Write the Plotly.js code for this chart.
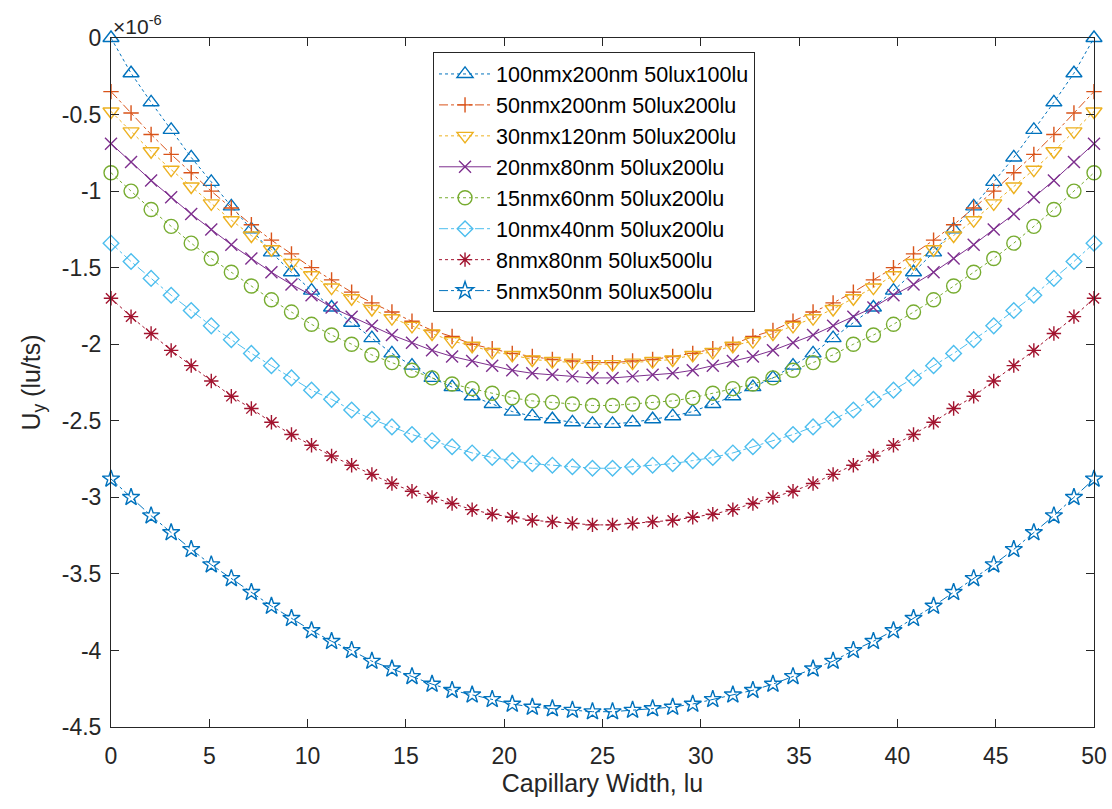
<!DOCTYPE html>
<html>
<head>
<meta charset="utf-8">
<script src="https://cdn.plot.ly/plotly-3.0.1.min.js"></script>
<style>html,body{margin:0;padding:0;background:#fff}#chart{width:1112px;height:809px}</style>
</head>
<body>
<div id="chart"></div>
<script>
// Capillary width positions (lu)
const xWidth = [0, 1.02, 2.04, 3.06, 4.08, 5.10, 6.12, 7.14, 8.16, 9.18, 10.20, 11.22, 12.24, 13.27, 14.29, 15.31, 16.33, 17.35, 18.37, 19.39, 20.41, 21.43, 22.45, 23.47, 24.49, 25.51, 26.53, 27.55, 28.57, 29.59, 30.61, 31.63, 32.65, 33.67, 34.69, 35.71, 36.73, 37.76, 38.78, 39.80, 40.82, 41.84, 42.86, 43.88, 44.90, 45.92, 46.94, 47.96, 48.98, 50];

// Uy values in units of 1e-6 lu/ts
const s100x200 = [0, -0.23, -0.42, -0.60, -0.78, -0.94, -1.10, -1.25, -1.40, -1.53, -1.65, -1.76, -1.86, -1.96, -2.06, -2.14, -2.22, -2.28, -2.34, -2.39, -2.44, -2.47, -2.49, -2.51, -2.52,
                  -2.52, -2.51, -2.49, -2.47, -2.44, -2.39, -2.34, -2.28, -2.22, -2.14, -2.06, -1.96, -1.86, -1.76, -1.65, -1.53, -1.40, -1.25, -1.10, -0.94, -0.78, -0.60, -0.42, -0.23, 0];
const s50x200 = [-0.35, -0.49, -0.63, -0.76, -0.88, -1.00, -1.11, -1.22, -1.32, -1.41, -1.50, -1.58, -1.66, -1.73, -1.79, -1.85, -1.91, -1.95, -2.00, -2.03, -2.06, -2.08, -2.10, -2.11, -2.12,
                 -2.12, -2.11, -2.10, -2.08, -2.06, -2.03, -2.00, -1.95, -1.91, -1.85, -1.79, -1.73, -1.66, -1.58, -1.50, -1.41, -1.32, -1.22, -1.11, -1.00, -0.88, -0.76, -0.63, -0.49, -0.35];
const s30x120 = [-0.48, -0.61, -0.74, -0.86, -0.97, -1.08, -1.19, -1.29, -1.38, -1.47, -1.55, -1.63, -1.70, -1.77, -1.83, -1.88, -1.93, -1.98, -2.01, -2.05, -2.07, -2.10, -2.11, -2.12, -2.13,
                 -2.13, -2.12, -2.11, -2.10, -2.07, -2.05, -2.01, -1.98, -1.93, -1.88, -1.83, -1.77, -1.70, -1.63, -1.55, -1.47, -1.38, -1.29, -1.19, -1.08, -0.97, -0.86, -0.74, -0.61, -0.48];
const s20x80 = [-0.69, -0.81, -0.93, -1.04, -1.15, -1.25, -1.35, -1.44, -1.53, -1.61, -1.68, -1.76, -1.82, -1.88, -1.94, -1.99, -2.04, -2.08, -2.11, -2.14, -2.17, -2.19, -2.20, -2.21, -2.22,
                -2.22, -2.21, -2.20, -2.19, -2.17, -2.14, -2.11, -2.08, -2.04, -1.99, -1.94, -1.88, -1.82, -1.76, -1.68, -1.61, -1.53, -1.44, -1.35, -1.25, -1.15, -1.04, -0.93, -0.81, -0.69];
const s15x60 = [-0.88, -1.00, -1.12, -1.23, -1.34, -1.44, -1.53, -1.62, -1.71, -1.79, -1.87, -1.94, -2.00, -2.07, -2.12, -2.17, -2.22, -2.26, -2.29, -2.32, -2.35, -2.37, -2.38, -2.39, -2.40,
                -2.40, -2.39, -2.38, -2.37, -2.35, -2.32, -2.29, -2.26, -2.22, -2.17, -2.12, -2.07, -2.00, -1.94, -1.87, -1.79, -1.71, -1.62, -1.53, -1.44, -1.34, -1.23, -1.12, -1.00, -0.88];
const s10x40 = [-1.34, -1.46, -1.57, -1.68, -1.78, -1.88, -1.97, -2.06, -2.14, -2.22, -2.30, -2.36, -2.43, -2.49, -2.54, -2.59, -2.63, -2.67, -2.71, -2.74, -2.76, -2.78, -2.79, -2.80, -2.81,
                -2.81, -2.80, -2.79, -2.78, -2.76, -2.74, -2.71, -2.67, -2.63, -2.59, -2.54, -2.49, -2.43, -2.36, -2.30, -2.22, -2.14, -2.06, -1.97, -1.88, -1.78, -1.68, -1.57, -1.46, -1.34];
const s8x80 = [-1.70, -1.82, -1.93, -2.04, -2.14, -2.24, -2.34, -2.42, -2.51, -2.59, -2.66, -2.73, -2.79, -2.85, -2.91, -2.96, -3.00, -3.04, -3.08, -3.11, -3.13, -3.15, -3.16, -3.17, -3.18,
               -3.18, -3.17, -3.16, -3.15, -3.13, -3.11, -3.08, -3.04, -3.00, -2.96, -2.91, -2.85, -2.79, -2.73, -2.66, -2.59, -2.51, -2.42, -2.34, -2.24, -2.14, -2.04, -1.93, -1.82, -1.70];
const s5x50 = [-2.88, -3.00, -3.12, -3.23, -3.34, -3.44, -3.53, -3.62, -3.71, -3.79, -3.87, -3.94, -4.00, -4.07, -4.12, -4.17, -4.22, -4.26, -4.29, -4.32, -4.35, -4.37, -4.38, -4.39, -4.40,
               -4.40, -4.39, -4.38, -4.37, -4.35, -4.32, -4.29, -4.26, -4.22, -4.17, -4.12, -4.07, -4.00, -3.94, -3.87, -3.79, -3.71, -3.62, -3.53, -3.44, -3.34, -3.23, -3.12, -3.00, -2.88];

const seriesNames = ['100nmx200nm 50lux100lu', '50nmx200nm 50lux200lu', '30nmx120nm 50lux200lu', '20nmx80nm 50lux200lu',
                     '15nmx60nm 50lux200lu', '10nmx40nm 50lux200lu', '8nmx80nm 50lux500lu', '5nmx50nm 50lux500lu'];
const xTicks = [0, 5, 10, 15, 20, 25, 30, 35, 40, 45, 50];
const yTicks = [0, -0.5, -1, -1.5, -2, -2.5, -3, -3.5, -4, -4.5];
const yTickText = ['0', '-0.5', '-1', '-1.5', '-2', '-2.5', '-3', '-3.5', '-4', '-4.5'];

const seriesData = [s100x200, s50x200, s30x120, s20x80, s15x60, s10x40, s8x80, s5x50];
const styles = [
  {color: '#0072BD', symbol: 'triangle-up-open', size: 14, dash: 'dot'},
  {color: '#D95319', symbol: 'cross-thin-open', size: 11, dash: 'dashdot'},
  {color: '#EDB120', symbol: 'triangle-down-open', size: 14, dash: 'dot'},
  {color: '#7E2F8E', symbol: 'x-thin-open', size: 12, dash: 'solid'},
  {color: '#77AC30', symbol: 'circle-open', size: 14, dash: 'dot'},
  {color: '#4DBEEE', symbol: 'diamond-open', size: 12, dash: 'dashdot'},
  {color: '#A2142F', symbol: 'asterisk-open', size: 12, dash: 'dot'},
  {color: '#0072BD', symbol: 'star-open', size: 13, dash: 'dashdot'}
];

const FONT = 'Liberation Sans, Arial, sans-serif';

const traces = seriesData.map((ys, k) => ({
  type: 'scatter', mode: 'lines+markers', x: xWidth, y: ys, name: seriesNames[k],
  line: {color: styles[k].color, width: 1, dash: styles[k].dash},
  marker: {symbol: styles[k].symbol, size: styles[k].size, color: styles[k].color, line: {color: styles[k].color, width: 1.4}},
  cliponaxis: false
}));

const axisCommon = {
  showline: true, linecolor: '#262626', linewidth: 1, mirror: 'ticks',
  ticks: 'inside', ticklen: 8, tickwidth: 1, tickcolor: '#262626',
  showgrid: false, zeroline: false,
  tickfont: {family: FONT, size: 23, color: '#262626'}
};

const layout = {
  width: 1112, height: 809,
  margin: {l: 111, r: 18, t: 38, b: 82},
  paper_bgcolor: '#ffffff', plot_bgcolor: '#ffffff',
  showlegend: true,
  font: {family: FONT, color: '#262626'},
  xaxis: Object.assign({}, axisCommon, {
    range: [0, 50], tickvals: xTicks, ticktext: xTicks.map(String),
    ticklabelstandoff: 8,
    title: {text: 'Capillary Width, lu', font: {family: FONT, size: 25, color: '#262626'}, standoff: 6}
  }),
  yaxis: Object.assign({}, axisCommon, {
    range: [-4.5, 0], tickvals: yTicks, ticktext: yTickText,
    ticklabelstandoff: 4,
    title: {text: 'U<sub>y</sub> (lu/ts)', font: {family: FONT, size: 25, color: '#262626'}, standoff: 14}
  }),
  legend: {
    x: 0.3276, y: 0.979, xanchor: 'left', yanchor: 'top',
    bgcolor: '#ffffff', bordercolor: '#262626', borderwidth: 1,
    font: {family: FONT, size: 21.5, color: '#000000'},
    itemwidth: 52,
    tracegroupgap: 0
  },
  annotations: [{
    xref: 'paper', yref: 'paper', x: 0, y: 1, xanchor: 'left', yanchor: 'bottom',
    text: '\u00d710<sup>-6</sup>', showarrow: false, yshift: -2,
    font: {family: FONT, size: 21, color: '#262626'}
  }]
};

Plotly.newPlot('chart', traces, layout, {displayModeBar: false, staticPlot: true});
</script>
</body>
</html>
